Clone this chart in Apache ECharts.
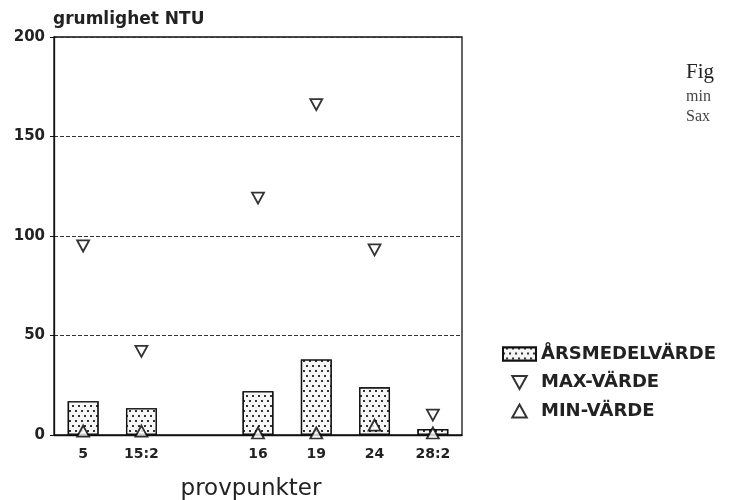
<!DOCTYPE html>
<html>
<head>
<meta charset="utf-8">
<script src="https://cdn.jsdelivr.net/npm/echarts@6/dist/echarts.min.js"></script>
<style>
html,body{margin:0;padding:0;background:#fff;}
#chart{width:732px;height:500px;}
</style>
</head>
<body>
<div id="chart"></div>
<script>
const categories = ['5', '15:2', '', '16', '19', '24', '28:2'];
const meanValues = [17, 13.5, null, 22, 38, 24, 3];
const maxValues = [95, 42, null, 119, 166, 93, 10];
const minValues = [2, 2, null, 1, 1, 5, 1];
const yTicks = [0, 50, 100, 150, 200];

const chart = echarts.init(document.getElementById('chart'));
const fontSans = '"DejaVu Sans", Arial, sans-serif';
const downTri = 'path://M0,0 L10,0 L5,9 Z';
const upTri = 'path://M5,0 L10,9 L0,9 Z';
const dotDecal = {
  symbol: 'rect',
  symbolSize: 1,
  color: '#333',
  backgroundColor: '#f6f6f6',
  dashArrayX: [[1.5, 3.5], [0, 2.5, 1.5, 1]],
  dashArrayY: [1.5, 2.2],
  rotation: 0
};
chart.setOption({
  backgroundColor: '#fff',
  animation: false,
  grid: {left: 54, right: 270, top: 37, bottom: 65, containLabel: false, outerBoundsMode: 'none', show: true, borderColor: '#111', borderWidth: 1.3, backgroundColor: 'transparent'},
  legend: {
    orient: 'vertical', left: 497, top: 340, itemGap: 10.5, itemWidth: 33, itemHeight: 13,
    textStyle: {fontFamily: fontSans, fontWeight: 'bold', fontSize: 18, color: '#222'},
    data: [
      {name: 'ÅRSMEDELVÄRDE', icon: 'rect'},
      {name: 'MAX-VÄRDE', icon: downTri},
      {name: 'MIN-VÄRDE', icon: upTri}
    ]
  },
  xAxis: {
    type: 'category', data: categories,
    axisLine: {lineStyle: {color: '#111', width: 1.3}},
    axisTick: {show: false},
    axisLabel: {fontFamily: fontSans, fontWeight: 'bold', fontSize: 14, color: '#222', margin: 12},
    name: 'provpunkter', nameLocation: 'middle', nameGap: 43,
    nameTextStyle: {fontFamily: fontSans, fontSize: 23, color: '#222', padding: [0, 14, 0, 0]}
  },
  yAxis: {
    type: 'value', min: yTicks[0], max: yTicks[yTicks.length - 1], interval: 50,
    axisLine: {show: true, lineStyle: {color: '#111', width: 1.3}},
    axisTick: {show: true, length: 4, lineStyle: {color: '#111'}},
    axisLabel: {fontFamily: fontSans, fontWeight: 'bold', fontSize: 15, color: '#222', margin: 9},
    splitLine: {show: true, lineStyle: {color: '#333', type: [4, 2], width: 1}},
    name: 'grumlighet NTU', nameLocation: 'end', nameGap: 9,
    nameTextStyle: {fontFamily: fontSans, fontWeight: 'bold', fontSize: 17, color: '#222', align: 'left', padding: [0, 0, 0, -1]}
  },
  series: [
    {
      name: 'ÅRSMEDELVÄRDE', type: 'bar', data: meanValues, barWidth: '53%',
      itemStyle: {color: '#f6f6f6', borderColor: '#111', borderWidth: 1.4, decal: dotDecal}
    },
    {
      name: 'MAX-VÄRDE', type: 'scatter', data: maxValues,
      symbol: downTri, symbolSize: [12, 11],
      itemStyle: {color: '#fff', borderColor: '#000', borderWidth: 1.8}, z: 5
    },
    {
      name: 'MIN-VÄRDE', type: 'scatter', data: minValues,
      symbol: upTri, symbolSize: [12, 11],
      itemStyle: {color: '#fff', borderColor: '#000', borderWidth: 1.8}, z: 5
    }
  ],
  graphic: [
    {type: 'text', left: 686, top: 62, style: {text: 'Fig', font: '21px "Liberation Serif", serif', fill: '#222'}},
    {type: 'text', left: 686, top: 89, style: {text: 'min', font: '16px "Liberation Serif", serif', fill: '#444'}},
    {type: 'text', left: 686, top: 109, style: {text: 'Sax', font: '16px "Liberation Serif", serif', fill: '#444'}}
  ]
});
</script>
</body>
</html>
